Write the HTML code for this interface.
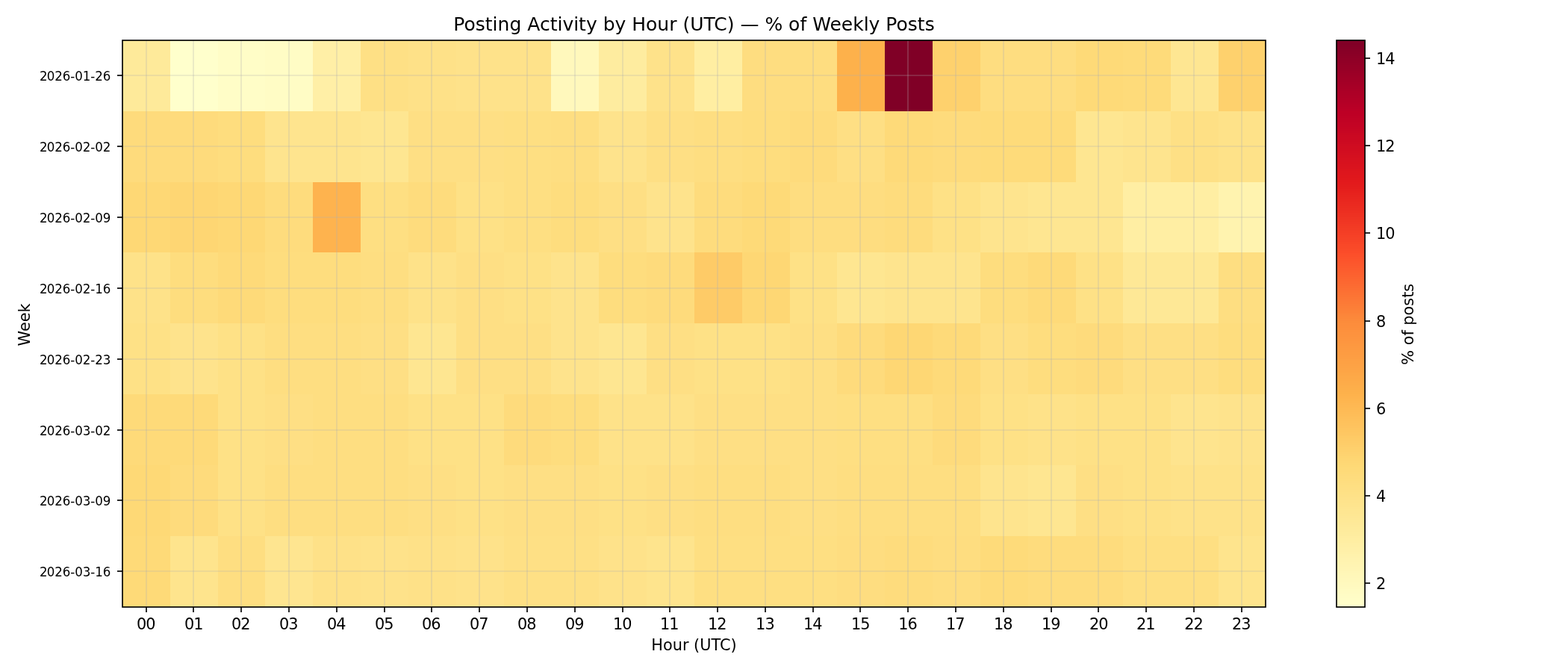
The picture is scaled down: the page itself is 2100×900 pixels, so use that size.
<!DOCTYPE html>
<html lang="en">
<head>
<meta charset="utf-8">
<title>Posting Activity by Hour (UTC) — % of Weekly Posts</title>
<style>
html,body{margin:0;padding:0;background:#fff;}
body{width:2100px;height:900px;overflow:hidden;}
svg{display:block;}
text{font-family:"DejaVu Sans","Liberation Sans",sans-serif;fill:#000;}
.t10{font-size:20.833px;}
.t8{font-size:16.667px;letter-spacing:-0.07px;}
.t12{font-size:25px;}
.cells rect{shape-rendering:crispEdges;}
.grid line{stroke:#b0b0b0;stroke-opacity:0.3;stroke-width:1.667;}
.tick line{stroke:#000;stroke-width:1.667;}
.spine{fill:none;stroke:#000;stroke-width:1.667;stroke-linejoin:miter;}
</style>
</head>
<body>
<svg width="2100" height="900" viewBox="0 0 2100 900" role="img" aria-label="Heatmap: posting activity by hour (UTC) as percent of weekly posts">
<rect x="0" y="0" width="2100" height="900" fill="#ffffff"/>
<g class="cells">
<rect x="164" y="54" width="64" height="95" fill="#feea9a"/>
<rect x="228" y="54" width="64" height="95" fill="#ffffcc"/>
<rect x="292" y="54" width="63" height="95" fill="#fffdc7"/>
<rect x="355" y="54" width="64" height="95" fill="#fffcc5"/>
<rect x="419" y="54" width="64" height="95" fill="#ffefa6"/>
<rect x="483" y="54" width="64" height="95" fill="#fee085"/>
<rect x="547" y="54" width="64" height="95" fill="#fee188"/>
<rect x="611" y="54" width="64" height="95" fill="#fee28a"/>
<rect x="675" y="54" width="63" height="95" fill="#fee28a"/>
<rect x="738" y="54" width="64" height="95" fill="#fff8bc"/>
<rect x="802" y="54" width="64" height="95" fill="#feec9f"/>
<rect x="866" y="54" width="64" height="95" fill="#fee28a"/>
<rect x="930" y="54" width="64" height="95" fill="#ffeea2"/>
<rect x="994" y="54" width="64" height="95" fill="#fedd80"/>
<rect x="1058" y="54" width="63" height="95" fill="#fedd80"/>
<rect x="1121" y="54" width="64" height="95" fill="#fdb14b"/>
<rect x="1185" y="54" width="64" height="95" fill="#800026"/>
<rect x="1249" y="54" width="64" height="95" fill="#fed16d"/>
<rect x="1313" y="54" width="64" height="95" fill="#fedd80"/>
<rect x="1377" y="54" width="64" height="95" fill="#fedd80"/>
<rect x="1441" y="54" width="63" height="95" fill="#feda78"/>
<rect x="1504" y="54" width="64" height="95" fill="#fedb7a"/>
<rect x="1568" y="54" width="64" height="95" fill="#fee692"/>
<rect x="1632" y="54" width="63" height="95" fill="#fed16d"/>
<rect x="164" y="149" width="64" height="95" fill="#fedb7c"/>
<rect x="228" y="149" width="64" height="95" fill="#fedb7c"/>
<rect x="292" y="149" width="63" height="95" fill="#fedd7e"/>
<rect x="355" y="149" width="64" height="95" fill="#fee48e"/>
<rect x="419" y="149" width="64" height="95" fill="#fee48e"/>
<rect x="483" y="149" width="64" height="95" fill="#fee691"/>
<rect x="547" y="149" width="64" height="95" fill="#fedf84"/>
<rect x="611" y="149" width="64" height="95" fill="#fedf84"/>
<rect x="675" y="149" width="63" height="95" fill="#fedf82"/>
<rect x="738" y="149" width="64" height="95" fill="#fede81"/>
<rect x="802" y="149" width="64" height="95" fill="#fee38c"/>
<rect x="866" y="149" width="64" height="95" fill="#fedf84"/>
<rect x="930" y="149" width="64" height="95" fill="#fede81"/>
<rect x="994" y="149" width="64" height="95" fill="#fedd7e"/>
<rect x="1058" y="149" width="63" height="95" fill="#fedb7c"/>
<rect x="1121" y="149" width="64" height="95" fill="#fedf84"/>
<rect x="1185" y="149" width="64" height="95" fill="#feda79"/>
<rect x="1249" y="149" width="64" height="95" fill="#fedb7c"/>
<rect x="1313" y="149" width="64" height="95" fill="#fedb7a"/>
<rect x="1377" y="149" width="64" height="95" fill="#fedb7a"/>
<rect x="1441" y="149" width="63" height="95" fill="#fee691"/>
<rect x="1504" y="149" width="64" height="95" fill="#fee48e"/>
<rect x="1568" y="149" width="64" height="95" fill="#fee085"/>
<rect x="1632" y="149" width="63" height="95" fill="#fee289"/>
<rect x="164" y="244" width="64" height="94" fill="#fed875"/>
<rect x="228" y="244" width="64" height="94" fill="#fed673"/>
<rect x="292" y="244" width="63" height="94" fill="#fed875"/>
<rect x="355" y="244" width="64" height="94" fill="#fedc7d"/>
<rect x="419" y="244" width="64" height="94" fill="#feb34e"/>
<rect x="483" y="244" width="64" height="94" fill="#fedf82"/>
<rect x="547" y="244" width="64" height="94" fill="#fedc7d"/>
<rect x="611" y="244" width="64" height="94" fill="#fee186"/>
<rect x="675" y="244" width="63" height="94" fill="#fedf82"/>
<rect x="738" y="244" width="64" height="94" fill="#fedd7e"/>
<rect x="802" y="244" width="64" height="94" fill="#fedf84"/>
<rect x="866" y="244" width="64" height="94" fill="#fee38c"/>
<rect x="930" y="244" width="64" height="94" fill="#fedc7d"/>
<rect x="994" y="244" width="64" height="94" fill="#feda78"/>
<rect x="1058" y="244" width="63" height="94" fill="#fedd80"/>
<rect x="1121" y="244" width="64" height="94" fill="#fedd80"/>
<rect x="1185" y="244" width="64" height="94" fill="#fedc7d"/>
<rect x="1249" y="244" width="64" height="94" fill="#fee186"/>
<rect x="1313" y="244" width="64" height="94" fill="#fee48e"/>
<rect x="1377" y="244" width="64" height="94" fill="#fee691"/>
<rect x="1441" y="244" width="63" height="94" fill="#fee691"/>
<rect x="1504" y="244" width="64" height="94" fill="#ffeea3"/>
<rect x="1568" y="244" width="64" height="94" fill="#ffeea3"/>
<rect x="1632" y="244" width="63" height="94" fill="#fff3af"/>
<rect x="164" y="338" width="64" height="95" fill="#fee289"/>
<rect x="228" y="338" width="64" height="95" fill="#fedd7e"/>
<rect x="292" y="338" width="63" height="95" fill="#feda79"/>
<rect x="355" y="338" width="64" height="95" fill="#fedd7e"/>
<rect x="419" y="338" width="64" height="95" fill="#fedd7e"/>
<rect x="483" y="338" width="64" height="95" fill="#fede81"/>
<rect x="547" y="338" width="64" height="95" fill="#fee289"/>
<rect x="611" y="338" width="64" height="95" fill="#fedf84"/>
<rect x="675" y="338" width="63" height="95" fill="#fee186"/>
<rect x="738" y="338" width="64" height="95" fill="#fee38c"/>
<rect x="802" y="338" width="64" height="95" fill="#fedd7e"/>
<rect x="866" y="338" width="64" height="95" fill="#fedb7c"/>
<rect x="930" y="338" width="64" height="95" fill="#fecb67"/>
<rect x="994" y="338" width="64" height="95" fill="#fed774"/>
<rect x="1058" y="338" width="63" height="95" fill="#fee186"/>
<rect x="1121" y="338" width="64" height="95" fill="#fee691"/>
<rect x="1185" y="338" width="64" height="95" fill="#fee48e"/>
<rect x="1249" y="338" width="64" height="95" fill="#fee48e"/>
<rect x="1313" y="338" width="64" height="95" fill="#fedd7e"/>
<rect x="1377" y="338" width="64" height="95" fill="#feda79"/>
<rect x="1441" y="338" width="63" height="95" fill="#fee186"/>
<rect x="1504" y="338" width="64" height="95" fill="#fee896"/>
<rect x="1568" y="338" width="64" height="95" fill="#fee896"/>
<rect x="1632" y="338" width="63" height="95" fill="#fede81"/>
<rect x="164" y="433" width="64" height="95" fill="#fee186"/>
<rect x="228" y="433" width="64" height="95" fill="#fee38c"/>
<rect x="292" y="433" width="63" height="95" fill="#fee186"/>
<rect x="355" y="433" width="64" height="95" fill="#fede81"/>
<rect x="419" y="433" width="64" height="95" fill="#fede81"/>
<rect x="483" y="433" width="64" height="95" fill="#fedf84"/>
<rect x="547" y="433" width="64" height="95" fill="#fee691"/>
<rect x="611" y="433" width="64" height="95" fill="#fedf84"/>
<rect x="675" y="433" width="63" height="95" fill="#fedf84"/>
<rect x="738" y="433" width="64" height="95" fill="#fee38c"/>
<rect x="802" y="433" width="64" height="95" fill="#fee691"/>
<rect x="866" y="433" width="64" height="95" fill="#fedf84"/>
<rect x="930" y="433" width="64" height="95" fill="#fee186"/>
<rect x="994" y="433" width="64" height="95" fill="#fee186"/>
<rect x="1058" y="433" width="63" height="95" fill="#fedf84"/>
<rect x="1121" y="433" width="64" height="95" fill="#fedb7c"/>
<rect x="1185" y="433" width="64" height="95" fill="#fed774"/>
<rect x="1249" y="433" width="64" height="95" fill="#feda79"/>
<rect x="1313" y="433" width="64" height="95" fill="#fedf84"/>
<rect x="1377" y="433" width="64" height="95" fill="#fedd7e"/>
<rect x="1441" y="433" width="63" height="95" fill="#fedb7c"/>
<rect x="1504" y="433" width="64" height="95" fill="#fedf84"/>
<rect x="1568" y="433" width="64" height="95" fill="#fedf84"/>
<rect x="1632" y="433" width="63" height="95" fill="#fedd7e"/>
<rect x="164" y="528" width="64" height="95" fill="#feda79"/>
<rect x="228" y="528" width="64" height="95" fill="#feda79"/>
<rect x="292" y="528" width="63" height="95" fill="#fee186"/>
<rect x="355" y="528" width="64" height="95" fill="#fedf84"/>
<rect x="419" y="528" width="64" height="95" fill="#fede81"/>
<rect x="483" y="528" width="64" height="95" fill="#fede81"/>
<rect x="547" y="528" width="64" height="95" fill="#fee186"/>
<rect x="611" y="528" width="64" height="95" fill="#fee186"/>
<rect x="675" y="528" width="63" height="95" fill="#fedb7c"/>
<rect x="738" y="528" width="64" height="95" fill="#fedd7e"/>
<rect x="802" y="528" width="64" height="95" fill="#fee289"/>
<rect x="866" y="528" width="64" height="95" fill="#fee289"/>
<rect x="930" y="528" width="64" height="95" fill="#fedf84"/>
<rect x="994" y="528" width="64" height="95" fill="#fedf84"/>
<rect x="1058" y="528" width="63" height="95" fill="#fedf84"/>
<rect x="1121" y="528" width="64" height="95" fill="#fedf82"/>
<rect x="1185" y="528" width="64" height="95" fill="#fedf82"/>
<rect x="1249" y="528" width="64" height="95" fill="#fedb7c"/>
<rect x="1313" y="528" width="64" height="95" fill="#fee186"/>
<rect x="1377" y="528" width="64" height="95" fill="#fee289"/>
<rect x="1441" y="528" width="63" height="95" fill="#fee186"/>
<rect x="1504" y="528" width="64" height="95" fill="#fee186"/>
<rect x="1568" y="528" width="64" height="95" fill="#fee48e"/>
<rect x="1632" y="528" width="63" height="95" fill="#fee38c"/>
<rect x="164" y="623" width="64" height="95" fill="#fed976"/>
<rect x="228" y="623" width="64" height="95" fill="#fedb7c"/>
<rect x="292" y="623" width="63" height="95" fill="#fee186"/>
<rect x="355" y="623" width="64" height="95" fill="#fede81"/>
<rect x="419" y="623" width="64" height="95" fill="#fede81"/>
<rect x="483" y="623" width="64" height="95" fill="#fede81"/>
<rect x="547" y="623" width="64" height="95" fill="#fedf84"/>
<rect x="611" y="623" width="64" height="95" fill="#fee186"/>
<rect x="675" y="623" width="63" height="95" fill="#fedf84"/>
<rect x="738" y="623" width="64" height="95" fill="#fedf84"/>
<rect x="802" y="623" width="64" height="95" fill="#fee186"/>
<rect x="866" y="623" width="64" height="95" fill="#fedf84"/>
<rect x="930" y="623" width="64" height="95" fill="#fede81"/>
<rect x="994" y="623" width="64" height="95" fill="#fede81"/>
<rect x="1058" y="623" width="63" height="95" fill="#fedf84"/>
<rect x="1121" y="623" width="64" height="95" fill="#fede81"/>
<rect x="1185" y="623" width="64" height="95" fill="#fede81"/>
<rect x="1249" y="623" width="64" height="95" fill="#fede81"/>
<rect x="1313" y="623" width="64" height="95" fill="#fee48e"/>
<rect x="1377" y="623" width="64" height="95" fill="#fee691"/>
<rect x="1441" y="623" width="63" height="95" fill="#fedf84"/>
<rect x="1504" y="623" width="64" height="95" fill="#fee186"/>
<rect x="1568" y="623" width="64" height="95" fill="#fee289"/>
<rect x="1632" y="623" width="63" height="95" fill="#fee289"/>
<rect x="164" y="718" width="64" height="95" fill="#feda78"/>
<rect x="228" y="718" width="64" height="95" fill="#fee48d"/>
<rect x="292" y="718" width="63" height="95" fill="#fede81"/>
<rect x="355" y="718" width="64" height="95" fill="#fee590"/>
<rect x="419" y="718" width="64" height="95" fill="#fee188"/>
<rect x="483" y="718" width="64" height="95" fill="#fee28a"/>
<rect x="547" y="718" width="64" height="95" fill="#fee188"/>
<rect x="611" y="718" width="64" height="95" fill="#fee28a"/>
<rect x="675" y="718" width="63" height="95" fill="#fee085"/>
<rect x="738" y="718" width="64" height="95" fill="#fee085"/>
<rect x="802" y="718" width="64" height="95" fill="#fee28a"/>
<rect x="866" y="718" width="64" height="95" fill="#fee48d"/>
<rect x="930" y="718" width="64" height="95" fill="#fedf82"/>
<rect x="994" y="718" width="64" height="95" fill="#fedf82"/>
<rect x="1058" y="718" width="63" height="95" fill="#fedf82"/>
<rect x="1121" y="718" width="64" height="95" fill="#fedd80"/>
<rect x="1185" y="718" width="64" height="95" fill="#fedc7d"/>
<rect x="1249" y="718" width="64" height="95" fill="#fedd80"/>
<rect x="1313" y="718" width="64" height="95" fill="#fedb7a"/>
<rect x="1377" y="718" width="64" height="95" fill="#fedc7d"/>
<rect x="1441" y="718" width="63" height="95" fill="#fedc7d"/>
<rect x="1504" y="718" width="64" height="95" fill="#fedf82"/>
<rect x="1568" y="718" width="64" height="95" fill="#fedf82"/>
<rect x="1632" y="718" width="63" height="95" fill="#fee48d"/>
</g>
<g class="grid">
<line x1="196.00" y1="54.00" x2="196.00" y2="812.70"/>
<line x1="259.00" y1="54.00" x2="259.00" y2="812.70"/>
<line x1="323.00" y1="54.00" x2="323.00" y2="812.70"/>
<line x1="387.00" y1="54.00" x2="387.00" y2="812.70"/>
<line x1="451.00" y1="54.00" x2="451.00" y2="812.70"/>
<line x1="515.00" y1="54.00" x2="515.00" y2="812.70"/>
<line x1="578.00" y1="54.00" x2="578.00" y2="812.70"/>
<line x1="642.00" y1="54.00" x2="642.00" y2="812.70"/>
<line x1="706.00" y1="54.00" x2="706.00" y2="812.70"/>
<line x1="770.00" y1="54.00" x2="770.00" y2="812.70"/>
<line x1="834.00" y1="54.00" x2="834.00" y2="812.70"/>
<line x1="897.00" y1="54.00" x2="897.00" y2="812.70"/>
<line x1="961.00" y1="54.00" x2="961.00" y2="812.70"/>
<line x1="1025.00" y1="54.00" x2="1025.00" y2="812.70"/>
<line x1="1089.00" y1="54.00" x2="1089.00" y2="812.70"/>
<line x1="1152.00" y1="54.00" x2="1152.00" y2="812.70"/>
<line x1="1216.00" y1="54.00" x2="1216.00" y2="812.70"/>
<line x1="1280.00" y1="54.00" x2="1280.00" y2="812.70"/>
<line x1="1344.00" y1="54.00" x2="1344.00" y2="812.70"/>
<line x1="1408.00" y1="54.00" x2="1408.00" y2="812.70"/>
<line x1="1471.00" y1="54.00" x2="1471.00" y2="812.70"/>
<line x1="1535.00" y1="54.00" x2="1535.00" y2="812.70"/>
<line x1="1599.00" y1="54.00" x2="1599.00" y2="812.70"/>
<line x1="1663.00" y1="54.00" x2="1663.00" y2="812.70"/>
<line x1="163.70" y1="101.00" x2="1694.70" y2="101.00"/>
<line x1="163.70" y1="196.00" x2="1694.70" y2="196.00"/>
<line x1="163.70" y1="291.00" x2="1694.70" y2="291.00"/>
<line x1="163.70" y1="386.00" x2="1694.70" y2="386.00"/>
<line x1="163.70" y1="481.00" x2="1694.70" y2="481.00"/>
<line x1="163.70" y1="576.00" x2="1694.70" y2="576.00"/>
<line x1="163.70" y1="670.00" x2="1694.70" y2="670.00"/>
<line x1="163.70" y1="765.00" x2="1694.70" y2="765.00"/>
</g>
<g class="tick">
<line x1="196.00" y1="813.00" x2="196.00" y2="820.00"/>
<line x1="259.00" y1="813.00" x2="259.00" y2="820.00"/>
<line x1="323.00" y1="813.00" x2="323.00" y2="820.00"/>
<line x1="387.00" y1="813.00" x2="387.00" y2="820.00"/>
<line x1="451.00" y1="813.00" x2="451.00" y2="820.00"/>
<line x1="515.00" y1="813.00" x2="515.00" y2="820.00"/>
<line x1="578.00" y1="813.00" x2="578.00" y2="820.00"/>
<line x1="642.00" y1="813.00" x2="642.00" y2="820.00"/>
<line x1="706.00" y1="813.00" x2="706.00" y2="820.00"/>
<line x1="770.00" y1="813.00" x2="770.00" y2="820.00"/>
<line x1="834.00" y1="813.00" x2="834.00" y2="820.00"/>
<line x1="897.00" y1="813.00" x2="897.00" y2="820.00"/>
<line x1="961.00" y1="813.00" x2="961.00" y2="820.00"/>
<line x1="1025.00" y1="813.00" x2="1025.00" y2="820.00"/>
<line x1="1089.00" y1="813.00" x2="1089.00" y2="820.00"/>
<line x1="1152.00" y1="813.00" x2="1152.00" y2="820.00"/>
<line x1="1216.00" y1="813.00" x2="1216.00" y2="820.00"/>
<line x1="1280.00" y1="813.00" x2="1280.00" y2="820.00"/>
<line x1="1344.00" y1="813.00" x2="1344.00" y2="820.00"/>
<line x1="1408.00" y1="813.00" x2="1408.00" y2="820.00"/>
<line x1="1471.00" y1="813.00" x2="1471.00" y2="820.00"/>
<line x1="1535.00" y1="813.00" x2="1535.00" y2="820.00"/>
<line x1="1599.00" y1="813.00" x2="1599.00" y2="820.00"/>
<line x1="1663.00" y1="813.00" x2="1663.00" y2="820.00"/>
<line x1="157.00" y1="101.00" x2="164.00" y2="101.00"/>
<line x1="157.00" y1="196.00" x2="164.00" y2="196.00"/>
<line x1="157.00" y1="291.00" x2="164.00" y2="291.00"/>
<line x1="157.00" y1="386.00" x2="164.00" y2="386.00"/>
<line x1="157.00" y1="481.00" x2="164.00" y2="481.00"/>
<line x1="157.00" y1="576.00" x2="164.00" y2="576.00"/>
<line x1="157.00" y1="670.00" x2="164.00" y2="670.00"/>
<line x1="157.00" y1="765.00" x2="164.00" y2="765.00"/>
<line x1="1828.00" y1="781.00" x2="1835.00" y2="781.00"/>
<line x1="1828.00" y1="664.00" x2="1835.00" y2="664.00"/>
<line x1="1828.00" y1="547.00" x2="1835.00" y2="547.00"/>
<line x1="1828.00" y1="430.00" x2="1835.00" y2="430.00"/>
<line x1="1828.00" y1="312.00" x2="1835.00" y2="312.00"/>
<line x1="1828.00" y1="195.00" x2="1835.00" y2="195.00"/>
<line x1="1828.00" y1="78.00" x2="1835.00" y2="78.00"/>
</g>
<g class="cells">
<rect x="1790" y="810" width="38" height="3" fill="#ffffcc"/>
<rect x="1790" y="807" width="38" height="3" fill="#fffeca"/>
<rect x="1790" y="804" width="38" height="3" fill="#fffdc9"/>
<rect x="1790" y="801" width="38" height="3" fill="#fffdc7"/>
<rect x="1790" y="798" width="38" height="3" fill="#fffcc6"/>
<rect x="1790" y="795" width="38" height="3" fill="#fffcc5"/>
<rect x="1790" y="792" width="38" height="3" fill="#fffbc3"/>
<rect x="1790" y="789" width="38" height="3" fill="#fffbc2"/>
<rect x="1790" y="786" width="38" height="3" fill="#fffac0"/>
<rect x="1790" y="783" width="38" height="3" fill="#fff9bf"/>
<rect x="1790" y="780" width="38" height="3" fill="#fff9be"/>
<rect x="1790" y="777" width="38" height="3" fill="#fff8bc"/>
<rect x="1790" y="774" width="38" height="3" fill="#fff8bb"/>
<rect x="1790" y="771" width="38" height="3" fill="#fff7ba"/>
<rect x="1790" y="768" width="38" height="3" fill="#fff7b8"/>
<rect x="1790" y="765" width="38" height="3" fill="#fff6b7"/>
<rect x="1790" y="762" width="38" height="3" fill="#fff5b5"/>
<rect x="1790" y="759" width="38" height="3" fill="#fff5b4"/>
<rect x="1790" y="756" width="38" height="3" fill="#fff4b3"/>
<rect x="1790" y="753" width="38" height="3" fill="#fff4b1"/>
<rect x="1790" y="750" width="38" height="3" fill="#fff3b0"/>
<rect x="1790" y="747" width="38" height="3" fill="#fff3af"/>
<rect x="1790" y="745" width="38" height="2" fill="#fff2ad"/>
<rect x="1790" y="742" width="38" height="3" fill="#fff2ac"/>
<rect x="1790" y="739" width="38" height="3" fill="#fff1aa"/>
<rect x="1790" y="736" width="38" height="3" fill="#fff0a9"/>
<rect x="1790" y="733" width="38" height="3" fill="#fff0a8"/>
<rect x="1790" y="730" width="38" height="3" fill="#ffefa6"/>
<rect x="1790" y="727" width="38" height="3" fill="#ffefa5"/>
<rect x="1790" y="724" width="38" height="3" fill="#ffeea3"/>
<rect x="1790" y="721" width="38" height="3" fill="#ffeea2"/>
<rect x="1790" y="718" width="38" height="3" fill="#ffeda1"/>
<rect x="1790" y="715" width="38" height="3" fill="#feec9f"/>
<rect x="1790" y="712" width="38" height="3" fill="#feec9e"/>
<rect x="1790" y="709" width="38" height="3" fill="#feeb9d"/>
<rect x="1790" y="706" width="38" height="3" fill="#feeb9b"/>
<rect x="1790" y="703" width="38" height="3" fill="#feea9a"/>
<rect x="1790" y="700" width="38" height="3" fill="#fee999"/>
<rect x="1790" y="697" width="38" height="3" fill="#fee997"/>
<rect x="1790" y="694" width="38" height="3" fill="#fee896"/>
<rect x="1790" y="691" width="38" height="3" fill="#fee795"/>
<rect x="1790" y="688" width="38" height="3" fill="#fee793"/>
<rect x="1790" y="685" width="38" height="3" fill="#fee692"/>
<rect x="1790" y="682" width="38" height="3" fill="#fee691"/>
<rect x="1790" y="679" width="38" height="3" fill="#fee590"/>
<rect x="1790" y="676" width="38" height="3" fill="#fee48e"/>
<rect x="1790" y="673" width="38" height="3" fill="#fee48d"/>
<rect x="1790" y="670" width="38" height="3" fill="#fee38c"/>
<rect x="1790" y="667" width="38" height="3" fill="#fee28a"/>
<rect x="1790" y="665" width="38" height="2" fill="#fee289"/>
<rect x="1790" y="662" width="38" height="3" fill="#fee188"/>
<rect x="1790" y="659" width="38" height="3" fill="#fee186"/>
<rect x="1790" y="656" width="38" height="3" fill="#fee085"/>
<rect x="1790" y="653" width="38" height="3" fill="#fedf84"/>
<rect x="1790" y="650" width="38" height="3" fill="#fedf82"/>
<rect x="1790" y="647" width="38" height="3" fill="#fede81"/>
<rect x="1790" y="644" width="38" height="3" fill="#fedd80"/>
<rect x="1790" y="641" width="38" height="3" fill="#fedd7e"/>
<rect x="1790" y="638" width="38" height="3" fill="#fedc7d"/>
<rect x="1790" y="635" width="38" height="3" fill="#fedb7c"/>
<rect x="1790" y="632" width="38" height="3" fill="#fedb7a"/>
<rect x="1790" y="629" width="38" height="3" fill="#feda79"/>
<rect x="1790" y="626" width="38" height="3" fill="#feda78"/>
<rect x="1790" y="623" width="38" height="3" fill="#fed976"/>
<rect x="1790" y="620" width="38" height="3" fill="#fed875"/>
<rect x="1790" y="617" width="38" height="3" fill="#fed774"/>
<rect x="1790" y="614" width="38" height="3" fill="#fed673"/>
<rect x="1790" y="611" width="38" height="3" fill="#fed571"/>
<rect x="1790" y="608" width="38" height="3" fill="#fed370"/>
<rect x="1790" y="605" width="38" height="3" fill="#fed26f"/>
<rect x="1790" y="602" width="38" height="3" fill="#fed16d"/>
<rect x="1790" y="599" width="38" height="3" fill="#fed06c"/>
<rect x="1790" y="596" width="38" height="3" fill="#fece6b"/>
<rect x="1790" y="593" width="38" height="3" fill="#fecd69"/>
<rect x="1790" y="590" width="38" height="3" fill="#fecc68"/>
<rect x="1790" y="587" width="38" height="3" fill="#fecb67"/>
<rect x="1790" y="584" width="38" height="3" fill="#feca65"/>
<rect x="1790" y="582" width="38" height="2" fill="#fec864"/>
<rect x="1790" y="579" width="38" height="3" fill="#fec763"/>
<rect x="1790" y="576" width="38" height="3" fill="#fec661"/>
<rect x="1790" y="573" width="38" height="3" fill="#fec560"/>
<rect x="1790" y="570" width="38" height="3" fill="#fec35f"/>
<rect x="1790" y="567" width="38" height="3" fill="#fec25d"/>
<rect x="1790" y="564" width="38" height="3" fill="#fec15c"/>
<rect x="1790" y="561" width="38" height="3" fill="#fec05b"/>
<rect x="1790" y="558" width="38" height="3" fill="#febf5a"/>
<rect x="1790" y="555" width="38" height="3" fill="#febd58"/>
<rect x="1790" y="552" width="38" height="3" fill="#febc57"/>
<rect x="1790" y="549" width="38" height="3" fill="#febb56"/>
<rect x="1790" y="546" width="38" height="3" fill="#feba54"/>
<rect x="1790" y="543" width="38" height="3" fill="#feb853"/>
<rect x="1790" y="540" width="38" height="3" fill="#feb752"/>
<rect x="1790" y="537" width="38" height="3" fill="#feb650"/>
<rect x="1790" y="534" width="38" height="3" fill="#feb54f"/>
<rect x="1790" y="531" width="38" height="3" fill="#feb34e"/>
<rect x="1790" y="528" width="38" height="3" fill="#feb24c"/>
<rect x="1790" y="525" width="38" height="3" fill="#fdb14b"/>
<rect x="1790" y="522" width="38" height="3" fill="#fdb04b"/>
<rect x="1790" y="519" width="38" height="3" fill="#fdaf4a"/>
<rect x="1790" y="516" width="38" height="3" fill="#fdae4a"/>
<rect x="1790" y="513" width="38" height="3" fill="#fdac49"/>
<rect x="1790" y="510" width="38" height="3" fill="#fdab49"/>
<rect x="1790" y="507" width="38" height="3" fill="#fdaa48"/>
<rect x="1790" y="504" width="38" height="3" fill="#fda948"/>
<rect x="1790" y="502" width="38" height="2" fill="#fda847"/>
<rect x="1790" y="499" width="38" height="3" fill="#fda747"/>
<rect x="1790" y="496" width="38" height="3" fill="#fda546"/>
<rect x="1790" y="493" width="38" height="3" fill="#fda446"/>
<rect x="1790" y="490" width="38" height="3" fill="#fda345"/>
<rect x="1790" y="487" width="38" height="3" fill="#fda245"/>
<rect x="1790" y="484" width="38" height="3" fill="#fda144"/>
<rect x="1790" y="481" width="38" height="3" fill="#fda044"/>
<rect x="1790" y="478" width="38" height="3" fill="#fd9e43"/>
<rect x="1790" y="475" width="38" height="3" fill="#fd9d43"/>
<rect x="1790" y="472" width="38" height="3" fill="#fd9c42"/>
<rect x="1790" y="469" width="38" height="3" fill="#fd9b42"/>
<rect x="1790" y="466" width="38" height="3" fill="#fd9a41"/>
<rect x="1790" y="463" width="38" height="3" fill="#fd9941"/>
<rect x="1790" y="460" width="38" height="3" fill="#fd9840"/>
<rect x="1790" y="457" width="38" height="3" fill="#fd9640"/>
<rect x="1790" y="454" width="38" height="3" fill="#fd953f"/>
<rect x="1790" y="451" width="38" height="3" fill="#fd943f"/>
<rect x="1790" y="448" width="38" height="3" fill="#fd933e"/>
<rect x="1790" y="445" width="38" height="3" fill="#fd923e"/>
<rect x="1790" y="442" width="38" height="3" fill="#fd913d"/>
<rect x="1790" y="439" width="38" height="3" fill="#fd8f3d"/>
<rect x="1790" y="436" width="38" height="3" fill="#fd8e3c"/>
<rect x="1790" y="433" width="38" height="3" fill="#fd8d3c"/>
<rect x="1790" y="430" width="38" height="3" fill="#fc8c3b"/>
<rect x="1790" y="427" width="38" height="3" fill="#fc8a3b"/>
<rect x="1790" y="424" width="38" height="3" fill="#fc883a"/>
<rect x="1790" y="421" width="38" height="3" fill="#fc863a"/>
<rect x="1790" y="419" width="38" height="2" fill="#fc8439"/>
<rect x="1790" y="416" width="38" height="3" fill="#fc8238"/>
<rect x="1790" y="413" width="38" height="3" fill="#fc8038"/>
<rect x="1790" y="410" width="38" height="3" fill="#fc7e37"/>
<rect x="1790" y="407" width="38" height="3" fill="#fc7c37"/>
<rect x="1790" y="404" width="38" height="3" fill="#fc7a36"/>
<rect x="1790" y="401" width="38" height="3" fill="#fc7836"/>
<rect x="1790" y="398" width="38" height="3" fill="#fc7635"/>
<rect x="1790" y="395" width="38" height="3" fill="#fc7434"/>
<rect x="1790" y="392" width="38" height="3" fill="#fc7234"/>
<rect x="1790" y="389" width="38" height="3" fill="#fc7033"/>
<rect x="1790" y="386" width="38" height="3" fill="#fc6e33"/>
<rect x="1790" y="383" width="38" height="3" fill="#fc6c32"/>
<rect x="1790" y="380" width="38" height="3" fill="#fc6a32"/>
<rect x="1790" y="377" width="38" height="3" fill="#fc6831"/>
<rect x="1790" y="374" width="38" height="3" fill="#fc6630"/>
<rect x="1790" y="371" width="38" height="3" fill="#fc6430"/>
<rect x="1790" y="368" width="38" height="3" fill="#fc622f"/>
<rect x="1790" y="365" width="38" height="3" fill="#fc602f"/>
<rect x="1790" y="362" width="38" height="3" fill="#fc5e2e"/>
<rect x="1790" y="359" width="38" height="3" fill="#fc5c2e"/>
<rect x="1790" y="356" width="38" height="3" fill="#fc5a2d"/>
<rect x="1790" y="353" width="38" height="3" fill="#fc582d"/>
<rect x="1790" y="350" width="38" height="3" fill="#fc562c"/>
<rect x="1790" y="347" width="38" height="3" fill="#fc542b"/>
<rect x="1790" y="344" width="38" height="3" fill="#fc522b"/>
<rect x="1790" y="341" width="38" height="3" fill="#fc502a"/>
<rect x="1790" y="339" width="38" height="2" fill="#fc4e2a"/>
<rect x="1790" y="336" width="38" height="3" fill="#fb4c29"/>
<rect x="1790" y="333" width="38" height="3" fill="#fa4b29"/>
<rect x="1790" y="330" width="38" height="3" fill="#f94928"/>
<rect x="1790" y="327" width="38" height="3" fill="#f94828"/>
<rect x="1790" y="324" width="38" height="3" fill="#f84627"/>
<rect x="1790" y="321" width="38" height="3" fill="#f74427"/>
<rect x="1790" y="318" width="38" height="3" fill="#f64327"/>
<rect x="1790" y="315" width="38" height="3" fill="#f64126"/>
<rect x="1790" y="312" width="38" height="3" fill="#f53f26"/>
<rect x="1790" y="309" width="38" height="3" fill="#f43e25"/>
<rect x="1790" y="306" width="38" height="3" fill="#f33c25"/>
<rect x="1790" y="303" width="38" height="3" fill="#f23b24"/>
<rect x="1790" y="300" width="38" height="3" fill="#f23924"/>
<rect x="1790" y="297" width="38" height="3" fill="#f13724"/>
<rect x="1790" y="294" width="38" height="3" fill="#f03623"/>
<rect x="1790" y="291" width="38" height="3" fill="#ef3423"/>
<rect x="1790" y="288" width="38" height="3" fill="#ee3222"/>
<rect x="1790" y="285" width="38" height="3" fill="#ee3122"/>
<rect x="1790" y="282" width="38" height="3" fill="#ed2f21"/>
<rect x="1790" y="279" width="38" height="3" fill="#ec2d21"/>
<rect x="1790" y="276" width="38" height="3" fill="#eb2c20"/>
<rect x="1790" y="273" width="38" height="3" fill="#eb2a20"/>
<rect x="1790" y="270" width="38" height="3" fill="#ea2920"/>
<rect x="1790" y="267" width="38" height="3" fill="#e9271f"/>
<rect x="1790" y="264" width="38" height="3" fill="#e8251f"/>
<rect x="1790" y="261" width="38" height="3" fill="#e7241e"/>
<rect x="1790" y="258" width="38" height="3" fill="#e7221e"/>
<rect x="1790" y="256" width="38" height="2" fill="#e6201d"/>
<rect x="1790" y="253" width="38" height="3" fill="#e51f1d"/>
<rect x="1790" y="250" width="38" height="3" fill="#e41d1c"/>
<rect x="1790" y="247" width="38" height="3" fill="#e31c1c"/>
<rect x="1790" y="244" width="38" height="3" fill="#e31a1c"/>
<rect x="1790" y="241" width="38" height="3" fill="#e2191c"/>
<rect x="1790" y="238" width="38" height="3" fill="#e0181c"/>
<rect x="1790" y="235" width="38" height="3" fill="#df171c"/>
<rect x="1790" y="232" width="38" height="3" fill="#de161d"/>
<rect x="1790" y="229" width="38" height="3" fill="#dd161d"/>
<rect x="1790" y="226" width="38" height="3" fill="#dc151d"/>
<rect x="1790" y="223" width="38" height="3" fill="#da141e"/>
<rect x="1790" y="220" width="38" height="3" fill="#d9131e"/>
<rect x="1790" y="217" width="38" height="3" fill="#d8121e"/>
<rect x="1790" y="214" width="38" height="3" fill="#d7121f"/>
<rect x="1790" y="211" width="38" height="3" fill="#d6111f"/>
<rect x="1790" y="208" width="38" height="3" fill="#d4101f"/>
<rect x="1790" y="205" width="38" height="3" fill="#d30f20"/>
<rect x="1790" y="202" width="38" height="3" fill="#d20e20"/>
<rect x="1790" y="199" width="38" height="3" fill="#d10d20"/>
<rect x="1790" y="196" width="38" height="3" fill="#d00d20"/>
<rect x="1790" y="193" width="38" height="3" fill="#cf0c21"/>
<rect x="1790" y="190" width="38" height="3" fill="#cd0b21"/>
<rect x="1790" y="187" width="38" height="3" fill="#cc0a21"/>
<rect x="1790" y="184" width="38" height="3" fill="#cb0922"/>
<rect x="1790" y="181" width="38" height="3" fill="#ca0922"/>
<rect x="1790" y="178" width="38" height="3" fill="#c90822"/>
<rect x="1790" y="176" width="38" height="2" fill="#c70723"/>
<rect x="1790" y="173" width="38" height="3" fill="#c60623"/>
<rect x="1790" y="170" width="38" height="3" fill="#c50523"/>
<rect x="1790" y="167" width="38" height="3" fill="#c40424"/>
<rect x="1790" y="164" width="38" height="3" fill="#c30424"/>
<rect x="1790" y="161" width="38" height="3" fill="#c10324"/>
<rect x="1790" y="158" width="38" height="3" fill="#c00225"/>
<rect x="1790" y="155" width="38" height="3" fill="#bf0125"/>
<rect x="1790" y="152" width="38" height="3" fill="#be0025"/>
<rect x="1790" y="149" width="38" height="3" fill="#bd0025"/>
<rect x="1790" y="146" width="38" height="3" fill="#bb0026"/>
<rect x="1790" y="143" width="38" height="3" fill="#b90026"/>
<rect x="1790" y="140" width="38" height="3" fill="#b70026"/>
<rect x="1790" y="137" width="38" height="3" fill="#b50026"/>
<rect x="1790" y="134" width="38" height="3" fill="#b30026"/>
<rect x="1790" y="131" width="38" height="3" fill="#b10026"/>
<rect x="1790" y="128" width="38" height="3" fill="#af0026"/>
<rect x="1790" y="125" width="38" height="3" fill="#ad0026"/>
<rect x="1790" y="122" width="38" height="3" fill="#ac0026"/>
<rect x="1790" y="119" width="38" height="3" fill="#aa0026"/>
<rect x="1790" y="116" width="38" height="3" fill="#a80026"/>
<rect x="1790" y="113" width="38" height="3" fill="#a60026"/>
<rect x="1790" y="110" width="38" height="3" fill="#a40026"/>
<rect x="1790" y="107" width="38" height="3" fill="#a20026"/>
<rect x="1790" y="104" width="38" height="3" fill="#a00026"/>
<rect x="1790" y="101" width="38" height="3" fill="#9e0026"/>
<rect x="1790" y="98" width="38" height="3" fill="#9c0026"/>
<rect x="1790" y="95" width="38" height="3" fill="#9a0026"/>
<rect x="1790" y="93" width="38" height="2" fill="#980026"/>
<rect x="1790" y="90" width="38" height="3" fill="#960026"/>
<rect x="1790" y="87" width="38" height="3" fill="#950026"/>
<rect x="1790" y="84" width="38" height="3" fill="#930026"/>
<rect x="1790" y="81" width="38" height="3" fill="#910026"/>
<rect x="1790" y="78" width="38" height="3" fill="#8f0026"/>
<rect x="1790" y="75" width="38" height="3" fill="#8d0026"/>
<rect x="1790" y="72" width="38" height="3" fill="#8b0026"/>
<rect x="1790" y="69" width="38" height="3" fill="#890026"/>
<rect x="1790" y="66" width="38" height="3" fill="#870026"/>
<rect x="1790" y="63" width="38" height="3" fill="#850026"/>
<rect x="1790" y="60" width="38" height="3" fill="#830026"/>
<rect x="1790" y="57" width="38" height="3" fill="#810026"/>
<rect x="1790" y="54" width="38" height="3" fill="#800026"/>
</g>
<rect class="spine" x="1790.00" y="54.00" width="38.00" height="759.00"/>
<rect class="spine" x="164.00" y="54.00" width="1531.00" height="759.00"/>
<text class="t12" x="929.50" y="40.60" text-anchor="middle">Posting Activity by Hour (UTC) — % of Weekly Posts</text>
<g class="t10" text-anchor="middle">
<text x="195.20" y="842.70" dx="0.5 -1">00</text>
<text x="259.29" y="842.70" dx="0.5 -1">01</text>
<text x="322.33" y="842.70" dx="0.5 -1">02</text>
<text x="386.37" y="842.70" dx="0.5 -1">03</text>
<text x="450.36" y="842.70" dx="0.5 -1">04</text>
<text x="514.15" y="842.70" dx="0.5 -1">05</text>
<text x="577.20" y="842.70" dx="0.5 -1">06</text>
<text x="641.29" y="842.70" dx="0.5 -1">07</text>
<text x="705.33" y="842.70" dx="0.5 -1">08</text>
<text x="769.37" y="842.70" dx="0.5 -1">09</text>
<text x="833.36" y="842.70" dx="0.5 -1">10</text>
<text x="896.15" y="842.70" dx="0.5 -1">11</text>
<text x="960.25" y="842.70" dx="0.5 -1">12</text>
<text x="1024.39" y="842.70" dx="0.5 -1">13</text>
<text x="1088.28" y="842.70" dx="0.5 -1">14</text>
<text x="1152.32" y="842.70" dx="0.5 -1">15</text>
<text x="1215.41" y="842.70" dx="0.5 -1">16</text>
<text x="1279.20" y="842.70" dx="0.5 -1">17</text>
<text x="1343.30" y="842.70" dx="0.5 -1">18</text>
<text x="1407.29" y="842.70" dx="0.5 -1">19</text>
<text x="1471.28" y="842.70" dx="0.5 -1">20</text>
<text x="1534.32" y="842.70" dx="0.5 -1">21</text>
<text x="1598.41" y="842.70" dx="0.5 -1">22</text>
<text x="1662.20" y="842.70" dx="0.5 -1">23</text>
</g>
<text class="t10" x="929.50" y="870.90" text-anchor="middle">Hour (UTC)</text>
<g class="t8" text-anchor="end">
<text transform="translate(147.30 107.90) scale(1 1.080)" dx="0.9 -0.9">2026-01-26</text>
<text transform="translate(147.30 202.90) scale(1 1.080)" dx="0.9 -0.9">2026-02-02</text>
<text transform="translate(147.30 297.90) scale(1 1.080)" dx="0.9 -0.9">2026-02-09</text>
<text transform="translate(147.30 392.90) scale(1 1.080)" dx="0.9 -0.9">2026-02-16</text>
<text transform="translate(147.30 487.90) scale(1 1.080)" dx="0.9 -0.9">2026-02-23</text>
<text transform="translate(147.30 582.90) scale(1 1.080)" dx="0.9 -0.9">2026-03-02</text>
<text transform="translate(147.30 676.90) scale(1 1.080)" dx="0.9 -0.9">2026-03-09</text>
<text transform="translate(147.30 771.90) scale(1 1.080)" dx="0.9 -0.9">2026-03-16</text>
</g>
<text class="t10" transform="translate(39.90 434.90) rotate(-90)" text-anchor="middle">Week</text>
<g class="t10" text-anchor="start">
<text x="1843.10" y="788.86">2</text>
<text x="1843.10" y="671.69">4</text>
<text x="1843.10" y="554.52">6</text>
<text x="1843.10" y="438.34">8</text>
<text x="1843.10" y="320.17" dx="0 -1.05">10</text>
<text x="1843.10" y="202.99" dx="0 -1.05">12</text>
<text x="1843.10" y="85.82" dx="0 -1.05">14</text>
</g>
<text class="t10" transform="translate(1892.60 434.30) rotate(-90)" text-anchor="middle">% of posts</text>
</svg>
</body>
</html>
